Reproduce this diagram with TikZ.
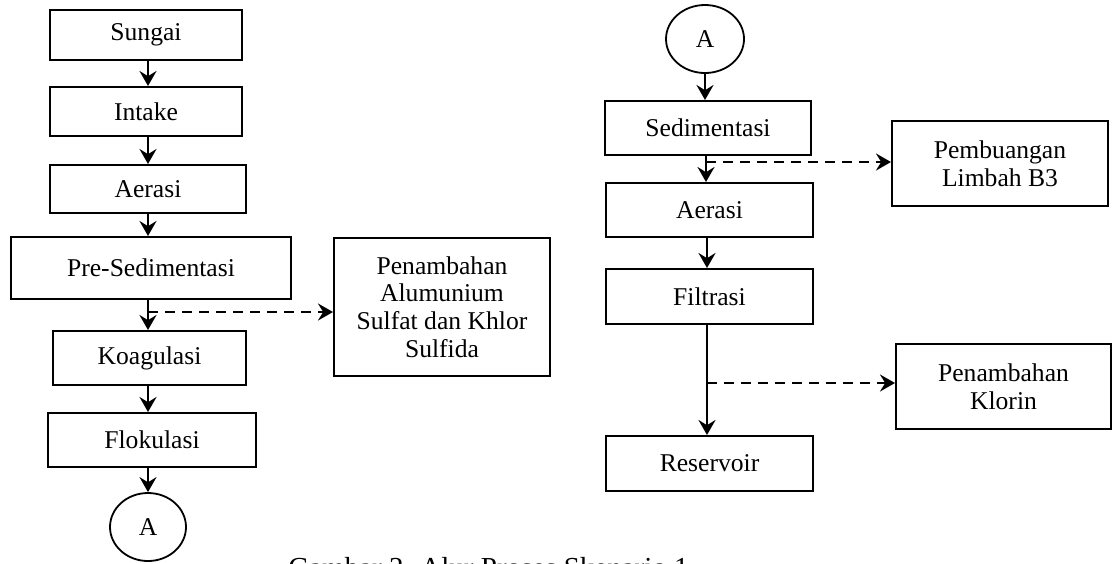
\documentclass[tikz,border=0pt]{standalone}
\usepackage{fontspec}
\setmainfont{Liberation Serif}
\usetikzlibrary{arrows.meta,shapes.geometric}

\tikzset{
  box/.style={draw, line width=1pt, rectangle, inner sep=0pt, align=center,
    font=\fontsize{12.8}{13.9}\selectfont},
  conn/.style={draw, ellipse, line width=0.9pt, inner sep=0pt,
    minimum width=38pt, minimum height=34pt,
    font=\fontsize{12.8}{13.9}\selectfont},
  flow/.style={line width=1.45pt, -{Stealth[length=7.5pt,width=8.5pt,inset=2.6pt]}},
  sideflow/.style={flow, dash pattern=on 5pt off 3.5pt},
}

\begin{document}
\begin{tikzpicture}[x=0.5pt, y=-0.5pt]
  \useasboundingbox (0,0) rectangle (1112,563);
  \fill[white] (0,0) rectangle (1112,563);
  \clip (0,0) rectangle (1112,563);

  % first stage
  \node[box, minimum width=96pt,  minimum height=25pt]   (sungai)  at (146,35)    {Sungai};
  \node[box, minimum width=96pt,  minimum height=24.5pt] (intake)  at (146,111.5) {Intake};
  \node[box, minimum width=98pt,  minimum height=24pt]   (aer1)    at (148,189)   {Aerasi};
  \node[box, minimum width=140pt, minimum height=31pt]   (presed)  at (151,268)   {Pre-Sedimentasi};
  \node[box, minimum width=96.5pt,minimum height=27pt]   (koag)    at (149.5,358) {Koagulasi};
  \node[box, minimum width=104pt, minimum height=27pt]   (flok)    at (152,440)   {Flokulasi};
  \node[conn] (a1) at (148,527) {A};
  \node[box, minimum width=108pt, minimum height=69pt]   (alum)    at (442,307)
    {Penambahan\\Alumunium\\Sulfat dan Khlor\\Sulfida};

  % second stage
  \node[conn, minimum width=39pt] (a2) at (705,39) {A};
  \node[box, minimum width=103pt,  minimum height=27pt]   (sedim)  at (708,128)   {Sedimentasi};
  \node[box, minimum width=103.5pt,minimum height=27pt]   (aer2)   at (709.5,210) {Aerasi};
  \node[box, minimum width=103.5pt,minimum height=27.5pt] (filt)   at (709.5,296.5) {Filtrasi};
  \node[box, minimum width=103.5pt,minimum height=27.5pt] (resv)   at (709.5,463.5) {Reservoir};
  \node[box, minimum width=108pt,  minimum height=42.5pt] (limbah) at (1000,163.5) {Pembuangan\\Limbah B3};
  \node[box, minimum width=107.5pt,minimum height=42.5pt] (klorin) at (1003.5,386.5) {Penambahan\\Klorin};

  % branch points for the dashed side flows
  \coordinate (b1) at (148,312);
  \coordinate (b2) at (706,162);
  \coordinate (b3) at (707,383);

  % main flow, first stage
  \draw[flow] (sungai.south -| a1.center) -- (intake.north -| a1.center);
  \draw[flow] (intake.south -| a1.center) -- (aer1.north -| a1.center);
  \draw[flow] (aer1.south -| a1.center)   -- (presed.north -| a1.center);
  \draw[flow] (presed.south -| a1.center) -- (koag.north -| a1.center);
  \draw[flow] (koag.south -| a1.center)   -- (flok.north -| a1.center);
  \draw[flow] (flok.south -| a1.center)   -- (a1.north);
  \draw[sideflow] (b1) -- (b1 -| alum.west);

  % main flow, second stage
  \draw[flow] (a2.south) -- (sedim.north -| a2.center);
  \draw[flow] (sedim.south -| b2) -- (aer2.north -| b2);
  \draw[flow] (aer2.south -| b3)  -- (filt.north -| b3);
  \draw[flow] (filt.south -| b3)  -- (resv.north -| b3);
  \draw[sideflow] (b2) -- (b2 -| limbah.west);
  \draw[sideflow] (b3) -- (b3 -| klorin.west);

  % caption, running past the lower edge of the page
  \node[anchor=base west, inner sep=0pt, font=\fontsize{14.5}{17}\selectfont] (cap) at (288,577)
    {Gambar 2. Alur Proses Skenario 1};
\end{tikzpicture}
\end{document}
